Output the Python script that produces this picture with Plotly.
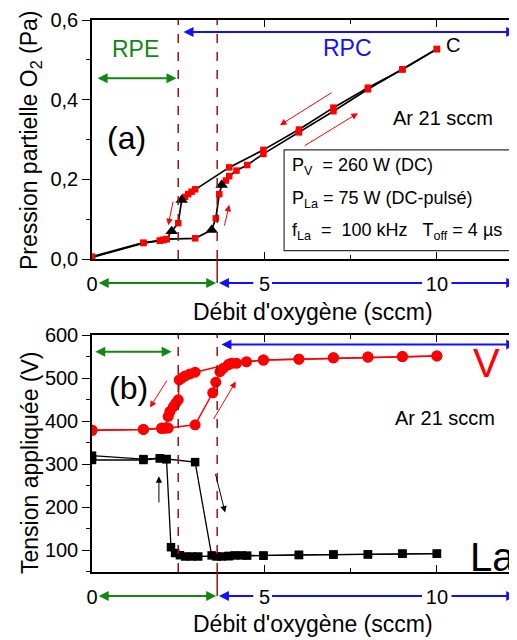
import plotly.graph_objects as go

# ---------------- data: panel (a) pressure O2 (Pa) vs O2 flow (sccm) ----------------
a_inc_x = [0, 1.49, 1.97, 2.07, 2.16, 2.99, 3.59, 3.69, 3.88, 3.98, 4.19, 4.5, 4.97, 6.0, 7.0, 8.0, 9.0, 10.0]
a_inc_y = [0.004, 0.040, 0.046, 0.048, 0.050, 0.052, 0.102, 0.163, 0.197, 0.208, 0.222, 0.236, 0.264, 0.318, 0.371, 0.426, 0.476, 0.527]
a_inc_tri_x = [3.47, 3.76]
a_inc_tri_y = [0.073, 0.186]

a_dec_x = [10.0, 9.0, 8.0, 7.0, 6.0, 4.97, 3.98, 2.99, 2.89, 2.79, 2.70, 2.5, 2.16, 2.07, 1.97, 1.49, 0]
a_dec_y = [0.527, 0.476, 0.430, 0.380, 0.325, 0.274, 0.230, 0.175, 0.169, 0.163, 0.156, 0.090, 0.050, 0.048, 0.046, 0.041, 0.006]
a_dec_tri_x = [2.6, 2.31]
a_dec_tri_y = [0.148, 0.070]

# ---------------- data: panel (b) applied voltage (V) ----------------
v_inc_x = [0, 1.49, 2.02, 2.12, 2.21, 2.99, 3.5, 3.59, 3.71, 3.81, 3.95, 4.05, 4.19, 4.48, 4.97, 6, 7, 8, 9, 10]
v_inc_y = [379, 381, 384, 384, 384, 391.7, 466, 490.5, 515, 523, 530.6, 534.5, 534.5, 538, 542, 544, 547, 548.8, 550, 551.6]
v_dec_x = [10, 9, 8, 7, 6, 4.97, 3.98, 2.99, 2.84, 2.70, 2.60, 2.53, 2.50, 2.43, 2.36, 2.26, 2.21, 2.12, 2.02, 1.49, 0]
v_dec_y = [551.6, 550, 548.8, 547, 544, 542, 533, 513.7, 509.7, 505, 499.8, 495.8, 449.5, 441.9, 434, 422.5, 411, 384, 383, 381, 379]

la_inc_x = [0, 1.49, 1.97, 2.16, 2.99, 3.47, 3.61, 3.76, 3.95, 4.14, 4.34, 4.5, 4.97, 6, 7, 8, 9, 10]
la_inc_y = [310, 310, 314, 312, 305, 88.5, 86, 86, 87, 88.5, 88.5, 88, 88, 89.6, 90.5, 91, 92.5, 92.5]
la_dec_x = [10, 9, 8, 7, 6, 4.97, 3.98, 3.08, 2.89, 2.70, 2.55, 2.41, 2.29, 2.16, 1.97, 1.49, 0]
la_dec_y = [92.5, 92.5, 91, 90.5, 89.6, 88, 87, 86, 86, 86, 89, 94, 107.6, 312, 314, 312, 320]

transition_x = [2.5, 3.63]
x_ticks = [0, 5, 10]
x_ticktext = ["0", "5", "10"]

FONT = "Liberation Sans, Arial, sans-serif"
RED = "#FF0000"
DRED = "#A01010"
GREEN = "#118811"
BLUE = "#1010FF"
XMAX = 12.41


def merged(xs, ys, tx, ty, descending):
    pts = sorted(list(zip(xs, ys)) + list(zip(tx, ty)), key=lambda p: p[0], reverse=descending)
    return [p[0] for p in pts], [p[1] for p in pts]


fig = go.Figure()

# panel (a)
for xs, ys, tx, ty, desc in [(a_inc_x, a_inc_y, a_inc_tri_x, a_inc_tri_y, False),
                             (a_dec_x, a_dec_y, a_dec_tri_x, a_dec_tri_y, True)]:
    lx, ly = merged(xs, ys, tx, ty, desc)
    fig.add_trace(go.Scatter(x=lx, y=ly, mode="lines", line=dict(color="black", width=1.7),
                             xaxis="x", yaxis="y", showlegend=False, hoverinfo="skip"))
for xs, ys in [(a_inc_x, a_inc_y), (a_dec_x, a_dec_y)]:
    fig.add_trace(go.Scatter(x=xs, y=ys, mode="markers",
                             marker=dict(symbol="square", size=6.5, color=RED),
                             xaxis="x", yaxis="y", showlegend=False, hoverinfo="skip"))
fig.add_trace(go.Scatter(x=a_inc_tri_x + a_dec_tri_x, y=a_inc_tri_y + a_dec_tri_y, mode="markers",
                         marker=dict(symbol="triangle-up", size=11, color="black"),
                         xaxis="x", yaxis="y", showlegend=False, hoverinfo="skip"))

# panel (b)
for xs, ys in [(v_inc_x, v_inc_y), (v_dec_x, v_dec_y)]:
    fig.add_trace(go.Scatter(x=xs, y=ys, mode="lines+markers",
                             line=dict(color=RED, width=1.5),
                             marker=dict(symbol="circle", size=11, color=RED),
                             xaxis="x2", yaxis="y2", showlegend=False, hoverinfo="skip"))
for xs, ys in [(la_inc_x, la_inc_y), (la_dec_x, la_dec_y)]:
    fig.add_trace(go.Scatter(x=xs, y=ys, mode="lines+markers",
                             line=dict(color="black", width=1.3),
                             marker=dict(symbol="square", size=8.5, color="black"),
                             xaxis="x2", yaxis="y2", showlegend=False, hoverinfo="skip"))

axis_common = dict(showline=True, linecolor="black", linewidth=1.5, showgrid=False, zeroline=False,
                   tickcolor="black", tickwidth=1.3,
                   tickfont=dict(family=FONT, size=20, color="black"))

x_common = dict(axis_common, range=[0, XMAX], tickvals=x_ticks, ticktext=x_ticktext,
                ticks="inside", ticklen=7, mirror="ticks", ticklabelstandoff=6,
                minor=dict(dtick=2.5, tick0=0, ticks="inside", ticklen=4, tickcolor="black", tickwidth=1.2))

shapes = []
annotations = []

# vertical transition dashed lines
for yref, y0, y1 in [("y", 0, 0.6), ("y2", 50, 600)]:
    for xv in transition_x:
        shapes.append(dict(type="line", xref="x" if yref == "y" else "x2", yref=yref,
                           x0=xv, x1=xv, y0=y0, y1=y1,
                           line=dict(color=DRED, width=1.5, dash="dash")))

# solid red links from the axis down to the flow-regime arrows
for xr, py0, py1 in [("x", 0.567, 0.5236), ("x2", 0.0, -0.0435)]:
    shapes.append(dict(type="line", xref=xr, yref="paper", x0=transition_x[1], x1=transition_x[1],
                       y0=py0, y1=py1, line=dict(color=DRED, width=1.5)))


def arrow(xr, yr, x, y, ax, ay, color, width=2, side="end", size=1.0, head=2):
    if yr == "paper":
        ayref, ay = "pixel", 0
    else:
        ayref = yr
    annotations.append(dict(xref=xr, yref=yr, axref=xr, ayref=ayref, x=x, y=y, ax=ax, ay=ay,
                            text="", showarrow=True, arrowhead=head, startarrowhead=head,
                            arrowsize=size, startarrowsize=size,
                            arrowwidth=width, arrowcolor=color, arrowside=side))


# regime arrows under each x axis (with gaps around tick labels)
for xr, py in [("x", 0.5236), ("x2", -0.0435)]:
    arrow(xr, "paper", 3.6, py, 0.15, py, GREEN, side="end+start")
    arrow(xr, "paper", 3.68, py, 4.72, py, BLUE)
    shapes.append(dict(type="line", xref=xr, yref="paper", x0=5.22, x1=9.57, y0=py, y1=py,
                       line=dict(color=BLUE, width=2)))
    arrow(xr, "paper", 12.3, py, 10.38, py, BLUE)

# regime arrows inside panel (a)
arrow("x", "y", 2.45, 0.454, 0.12, 0.454, GREEN, side="end+start")
arrow("x", "y", 12.3, 0.570, 2.61, 0.570, BLUE, side="end+start")
# regime arrows inside panel (b)
arrow("x2", "y2", 2.31, 561, 0.05, 561, GREEN, side="end+start")
arrow("x2", "y2", 12.3, 578, 3.71, 578, BLUE, side="end+start")

# red direction arrows panel (a)
arrow("x", "y", 5.45, 0.336, 6.99, 0.42, RED, width=1, size=1.3)
arrow("x", "y", 7.71, 0.366, 6.12, 0.282, RED, width=1, size=1.3)
arrow("x", "y", 2.21, 0.085, 2.36, 0.148, RED, width=1, size=1.3)
arrow("x", "y", 3.98, 0.136, 3.83, 0.080, RED, width=1, size=1.3)
# direction arrows panel (b)
arrow("x2", "y2", 1.68, 432, 2.2, 498, RED, width=1, size=1.3)
arrow("x2", "y2", 4.17, 492, 3.5, 401.5, RED, width=1, size=1.3)
arrow("x2", "y2", 1.94, 272, 1.94, 208, "black", width=1, size=1.3)
arrow("x2", "y2", 3.86, 188, 3.57, 281, "black", width=1, size=1.3)


def text(xr, yr, x, y, t, size, color="black", xanchor="center", angle=0):
    annotations.append(dict(xref=xr, yref=yr, x=x, y=y, text=t, showarrow=False,
                            font=dict(family=FONT, size=size, color=color),
                            xanchor=xanchor, yanchor="middle", textangle=angle))


text("x", "y", 1.25, 0.527, "RPE", 23, GREEN)
text("x", "y", 7.42, 0.530, "RPC", 23, BLUE)
text("x", "y", 1.01, 0.304, "(a)", 32)
text("x", "y", 10.17, 0.354, "Ar 21 sccm", 20)
text("x", "y", 10.46, 0.537, "C", 20)

# parameter box
shapes.append(dict(type="rect", xref="x", yref="y", x0=5.57, x1=13.0, y0=0.021, y1=0.274,
                   line=dict(color="#333333", width=1.2), fillcolor="rgba(0,0,0,0)"))
NB = "\u00a0"
text("x", "y", 5.74, 0.232, f"P<sub>V</sub>{NB}{NB}= 260 W (DC)", 18, xanchor="left")
text("x", "y", 5.74, 0.149, "P<sub>La</sub> = 75 W (DC-pulsé)", 18, xanchor="left")
text("x", "y", 5.74, 0.069,
     f"f<sub>La</sub>{NB}{NB}={NB}{NB}100 kHz{NB}{NB}{NB}T<sub>off</sub> = 4 µs", 18, xanchor="left")

text("x2", "y2", 1.07, 476, "(b)", 32)
text("x2", "y2", 10.23, 407, "Ar 21 sccm", 20)
text("x2", "y2", 11.45, 536, "V", 40, RED)
text("x2", "y2", 10.9, 84, "La", 40, xanchor="left")

# axis titles (paper x: plot area spans 428 px starting 84 px from figure left)
PW = 428.0
text("paper", "paper", -62 / PW, 0.7826, "Pression partielle O<sub>2</sub> (Pa)", 23, angle=-90)
text("paper", "paper", -62 / PW, 0.1975, "Tension appliquée (V)", 23, angle=-90)
text("paper", "paper", 221 / PW, 0.471, "Débit d'oxygène (sccm)", 23)
text("paper", "paper", 221 / PW, -0.0942, "Débit d'oxygène (sccm)", 23)

fig.update_layout(
    width=512, height=632,
    margin=dict(l=84, r=0, t=12, b=68),
    paper_bgcolor="white", plot_bgcolor="white",
    separators=", ",
    font=dict(family=FONT, color="black"),
    xaxis=dict(x_common, anchor="y"),
    yaxis=dict(axis_common, domain=[0.567, 1.0], range=[0, 0.6], tickvals=[0, 0.2, 0.4, 0.6],
               tickformat=".1f", ticks="outside", ticklen=8, anchor="x",
               minor=dict(dtick=0.1, tick0=0, ticks="outside", ticklen=4, tickcolor="black", tickwidth=1.2)),
    xaxis2=dict(x_common, anchor="y2"),
    yaxis2=dict(axis_common, domain=[0.0, 0.4293], range=[50, 600], tickvals=[100, 200, 300, 400, 500, 600],
                ticks="outside", ticklen=8, anchor="x2",
                minor=dict(dtick=50, tick0=0, ticks="outside", ticklen=4, tickcolor="black", tickwidth=1.2)),
    shapes=shapes,
    annotations=annotations,
    showlegend=False,
)

fig.write_html("out.html")
